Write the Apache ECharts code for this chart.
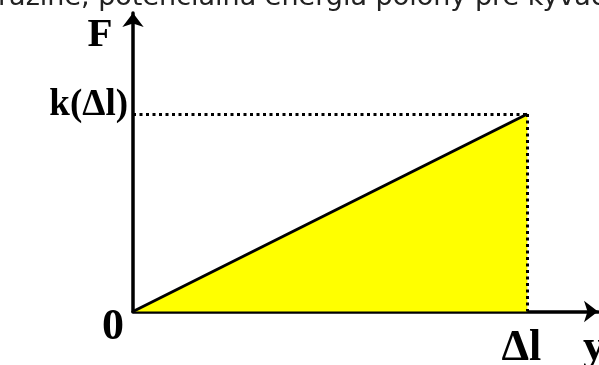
<!DOCTYPE html>
<html><head><meta charset="utf-8">
<script src="https://cdn.jsdelivr.net/npm/echarts@6/dist/echarts.min.js"></script>
<style>html,body{margin:0;padding:0;background:#fff}#c{width:599px;height:365px}</style>
</head><body><div id="c"></div>
<script>
// data
var xValues = [0, 1];          // 0 .. Δl
var fValues = [0, 1];          // 0 .. k(Δl)
var xTickLabels = ['0', 'Δl'];
var yTickLabels = ['k(Δl)'];
var axisNames = ['y', 'F'];
var captionText = 'razine, potenciálna energia polohy pre kyvadlo';

var chart = echarts.init(document.getElementById('c'));
var lineData = xValues.map(function (x, i) { return [x, fValues[i]]; });
var serif = '"Liberation Serif", "DejaVu Serif", serif';

chart.setOption({
  animation: false,
  grid: { left: 133, right: 1, top: 13, bottom: 53.5 },
  xAxis: {
    type: 'value', min: 0, max: 1.179,
    axisLine: { show: true, symbol: ['none', 'arrow'], symbolSize: [16, 14], lineStyle: { color: '#000', width: 3.5 } },
    axisTick: { show: false }, axisLabel: { show: false }, splitLine: { show: false }
  },
  yAxis: {
    type: 'value', min: 0, max: 1.5114,
    axisLine: { show: true, symbol: ['none', 'arrow'], symbolSize: [16, 14], lineStyle: { color: '#000', width: 3.5 } },
    axisTick: { show: false }, axisLabel: { show: false }, splitLine: { show: false }
  },
  series: [{
    type: 'line',
    data: lineData,
    symbol: 'none',
    lineStyle: { color: '#000', width: 3 },
    areaStyle: { color: '#ffff00', opacity: 1 },
    markLine: {
      silent: true, symbol: 'none', label: { show: false },
      lineStyle: { color: '#000', type: [3, 3.5], width: 3 },
      data: [
        [{ coord: [0, fValues[1]] }, { coord: [xValues[1], fValues[1]] }],
        [{ coord: [xValues[1], fValues[1]] }, { coord: [xValues[1], 0] }]
      ]
    }
  }]
});

var p0 = chart.convertToPixel({ gridIndex: 0 }, [0, 0]);
var p1 = chart.convertToPixel({ gridIndex: 0 }, [xValues[1], fValues[1]]);
var bold = { fontFamily: serif, fontWeight: 'bold', fill: '#000' };
function t(text, x, y, size, align, vAlign) {
  var s = Object.assign({ text: text, x: x, y: y, fontSize: size, align: align, verticalAlign: vAlign }, bold);
  return { type: 'text', style: s };
}
chart.setOption({
  graphic: [
    { type: 'text', style: { text: captionText, x: -2, y: 11, fontSize: 27, fontFamily: '"DejaVu Sans", Verdana, sans-serif', fill: '#222', verticalAlign: 'bottom' } },
    t(axisNames[1], p0[0] - 33, 35, 41, 'center', 'middle'),
    t(yTickLabels[0], p0[0] - 5, p1[1] - 9, 37, 'right', 'middle'),
    t(xTickLabels[0], p0[0] - 20, p0[1] + 16, 44, 'center', 'middle'),
    t(xTickLabels[1], p1[0] - 6, p0[1] + 37, 44, 'center', 'middle'),
    t(axisNames[0], 583, p0[1] + 37, 44, 'left', 'middle')
  ]
});
</script></body></html>
